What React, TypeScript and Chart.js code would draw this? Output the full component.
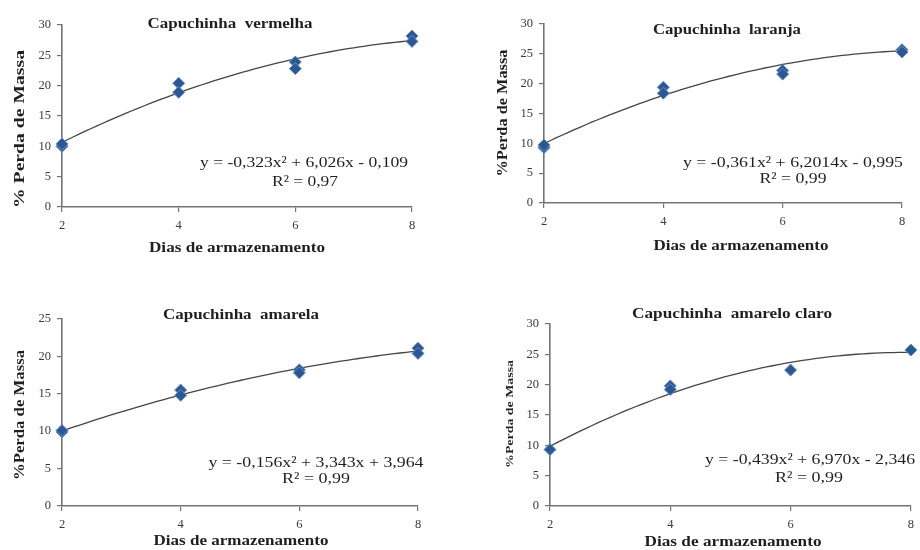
import React, { useEffect, useRef } from "react";
import { Chart, registerables } from "chart.js";

Chart.register(...registerables);

// Storage days for each replicate measurement
const vermelhaDays = [2, 2, 4, 4, 6, 6, 8, 8];
const vermelhaLoss = [10.0, 10.4, 20.4, 18.9, 23.9, 22.8, 28.2, 27.3];

const laranjaDays = [2, 2, 4, 4, 6, 6, 8, 8];
const laranjaLoss = [9.3, 9.7, 19.4, 18.4, 22.2, 21.6, 25.7, 25.3];

const amarelaDays = [2, 2, 4, 4, 6, 6, 8, 8];
const amarelaLoss = [9.9, 10.1, 15.5, 14.8, 18.2, 17.8, 21.1, 20.4];

const amareloClaroDays = [2, 4, 4, 6, 8];
const amareloClaroLoss = [9.3, 19.8, 19.2, 22.4, 25.7];

// Quadratic fit coefficients [a, b, c] for y = a·x² + b·x + c
const vermelhaFit = [-0.323, 6.026, -0.109];
const laranjaFit = [-0.361, 6.2014, -0.995];
const amarelaFit = [-0.156, 3.343, 3.964];
const amareloClaroFit = [-0.439, 6.97, -2.346];

const dayTicks = [2, 4, 6, 8];

const SERIF = '"Liberation Serif", "Times New Roman", serif';
const TEXT = "#1f1f1f";
const AXIS = "#747474";

type Pos = { x: number; y: number; w: number };

type PanelSpec = {
  title: string;
  yTitle: string;
  equation: string;
  r2: string;
  days: number[];
  loss: number[];
  fit: number[];
  yMax: number;
  box: { left: number; top: number };
  area: { left: number; right: number; top: number; bottom: number };
  titlePos: Pos;
  xTitlePos: Pos;
  yTitlePos: Pos;
  yTitleSize: number;
  eqPos: Pos;
  r2Pos: Pos;
};

const W = 460;
const H = 275;

const panels: PanelSpec[] = [
  {
    title: "Capuchinha  vermelha",
    yTitle: "% Perda de Massa",
    equation: "y = -0,323x² + 6,026x - 0,109",
    r2: "R² = 0,97",
    days: vermelhaDays,
    loss: vermelhaLoss,
    fit: vermelhaFit,
    yMax: 30,
    box: { left: 0, top: 0 },
    area: { left: 62, right: 412, top: 25, bottom: 207 },
    titlePos: { x: 230, y: 24, w: 165 },
    xTitlePos: { x: 237, y: 248, w: 176 },
    yTitlePos: { x: 20, y: 129, w: 158 },
    yTitleSize: 15,
    eqPos: { x: 304, y: 163, w: 208 },
    r2Pos: { x: 305, y: 182, w: 66 },
  },
  {
    title: "Capuchinha  laranja",
    yTitle: "%Perda de Massa",
    equation: "y = -0,361x² + 6,2014x - 0,995",
    r2: "R² = 0,99",
    days: laranjaDays,
    loss: laranjaLoss,
    fit: laranjaFit,
    yMax: 30,
    box: { left: 460, top: 0 },
    area: { left: 544, right: 902, top: 24, bottom: 203 },
    titlePos: { x: 727, y: 30, w: 148 },
    xTitlePos: { x: 741, y: 246, w: 175 },
    yTitlePos: { x: 503, y: 113, w: 127 },
    yTitleSize: 15,
    eqPos: { x: 793, y: 163, w: 220 },
    r2Pos: { x: 793, y: 179, w: 67 },
  },
  {
    title: "Capuchinha  amarela",
    yTitle: "%Perda de Massa",
    equation: "y = -0,156x² + 3,343x + 3,964",
    r2: "R² = 0,99",
    days: amarelaDays,
    loss: amarelaLoss,
    fit: amarelaFit,
    yMax: 25,
    box: { left: 0, top: 275 },
    area: { left: 62, right: 418, top: 319, bottom: 506 },
    titlePos: { x: 241, y: 315, w: 156 },
    xTitlePos: { x: 241, y: 541, w: 175 },
    yTitlePos: { x: 20, y: 415, w: 130 },
    yTitleSize: 15,
    eqPos: { x: 316, y: 463, w: 215 },
    r2Pos: { x: 316, y: 479, w: 68 },
  },
  {
    title: "Capuchinha  amarelo claro",
    yTitle: "%Perda de Massa",
    equation: "y = -0,439x² + 6,970x - 2,346",
    r2: "R² = 0,99",
    days: amareloClaroDays,
    loss: amareloClaroLoss,
    fit: amareloClaroFit,
    yMax: 30,
    box: { left: 460, top: 275 },
    area: { left: 550, right: 913, top: 324, bottom: 506 },
    titlePos: { x: 732, y: 314, w: 200 },
    xTitlePos: { x: 733, y: 542, w: 177 },
    yTitlePos: { x: 510, y: 414, w: 108 },
    yTitleSize: 11,
    eqPos: { x: 810, y: 460, w: 210 },
    r2Pos: { x: 809, y: 478, w: 68 },
  },
];

function drawFitted(
  ctx: CanvasRenderingContext2D,
  text: string,
  cx: number,
  cy: number,
  width: number,
  size: number,
  bold: boolean,
  vertical = false
) {
  ctx.save();
  ctx.font = `${bold ? "bold " : ""}${size}px ${SERIF}`;
  const natural = ctx.measureText(text).width;
  ctx.translate(cx, cy);
  if (vertical) ctx.rotate(-Math.PI / 2);
  ctx.scale(width / natural, 1);
  ctx.fillStyle = TEXT;
  ctx.textAlign = "center";
  ctx.textBaseline = "middle";
  ctx.fillText(text, 0, 0);
  ctx.restore();
}

function fitCurve(coef: number[]) {
  const pts: { x: number; y: number }[] = [];
  const first = dayTicks[0];
  const last = dayTicks[dayTicks.length - 1];
  for (let i = 0; i <= 60; i++) {
    const x = first + ((last - first) * i) / 60;
    pts.push({ x, y: coef[0] * x * x + coef[1] * x + coef[2] });
  }
  return pts;
}

function Panel({ spec }: { spec: PanelSpec }) {
  const ref = useRef<HTMLCanvasElement | null>(null);

  useEffect(() => {
    const canvas = ref.current;
    if (!canvas) return;
    const { box, area } = spec;
    const local = (p: Pos) => ({ x: p.x - box.left, y: p.y - box.top, w: p.w });

    const labels = {
      id: "panelText",
      afterDraw(chart: Chart) {
        const ctx = chart.ctx;
        const t = local(spec.titlePos);
        drawFitted(ctx, spec.title, t.x, t.y, t.w, 15.5, true);
        const xt = local(spec.xTitlePos);
        drawFitted(ctx, "Dias de armazenamento", xt.x, xt.y, xt.w, 14.5, true);
        const yt = local(spec.yTitlePos);
        drawFitted(ctx, spec.yTitle, yt.x, yt.y, yt.w, spec.yTitleSize, true, true);
        const eq = local(spec.eqPos);
        drawFitted(ctx, spec.equation, eq.x, eq.y, eq.w, 15.5, false);
        const r2 = local(spec.r2Pos);
        drawFitted(ctx, spec.r2, r2.x, r2.y, r2.w, 15.5, false);
      },
    };

    const chart = new Chart(canvas, {
      type: "scatter",
      data: {
        datasets: [
          {
            type: "line",
            data: fitCurve(spec.fit),
            borderColor: "#454545",
            borderWidth: 1.3,
            pointRadius: 0,
            tension: 0,
            fill: false,
            clip: false,
            order: 2,
          } as any,
          {
            type: "scatter",
            data: spec.days.map((d, i) => ({ x: d, y: spec.loss[i] })),
            pointStyle: "rectRot",
            pointRadius: 6,
            backgroundColor: "#2b5793",
            borderColor: "#6a8ec2",
            borderWidth: 1,
            clip: false,
            order: 1,
          } as any,
        ],
      },
      options: {
        responsive: false,
        animation: false,
        devicePixelRatio: 1,
        layout: {
          padding: {
            left: 0,
            bottom: 0,
            top: area.top - box.top,
            right: box.left + W - area.right,
          },
        },
        plugins: {
          legend: { display: false },
          tooltip: { enabled: false },
          title: { display: false },
        },
        scales: {
          x: {
            type: "linear",
            min: dayTicks[0],
            max: dayTicks[dayTicks.length - 1],
            afterFit(scale: any) {
              scale.height = box.top + H - area.bottom;
            },
            afterBuildTicks(scale: any) {
              scale.ticks = dayTicks.map((v) => ({ value: v }));
            },
            grid: {
              drawOnChartArea: false,
              drawTicks: true,
              tickLength: 5,
              color: AXIS,
              lineWidth: 1.2,
            },
            border: { display: true, color: AXIS, width: 1.6 },
            ticks: {
              padding: 6,
              color: "#3a3a3a",
              font: { family: SERIF, size: 12.5 },
            },
          },
          y: {
            type: "linear",
            min: 0,
            max: spec.yMax,
            afterFit(scale: any) {
              scale.width = area.left - box.left;
            },
            grid: {
              drawOnChartArea: false,
              drawTicks: true,
              tickLength: 5,
              color: AXIS,
              lineWidth: 1.2,
            },
            border: { display: true, color: AXIS, width: 1.6 },
            ticks: {
              stepSize: 5,
              padding: 6,
              color: "#3a3a3a",
              font: { family: SERIF, size: 12.5 },
            },
          },
        },
      },
      plugins: [labels],
    });

    return () => chart.destroy();
  }, [spec]);

  return (
    <canvas
      ref={ref}
      width={W}
      height={H}
      style={{
        position: "absolute",
        left: spec.box.left,
        top: spec.box.top,
        width: W,
        height: H,
      }}
    />
  );
}

export default function App() {
  return (
    <div
      style={{
        position: "absolute",
        left: 0,
        top: 0,
        width: 920,
        height: 550,
        background: "#ffffff",
        overflow: "hidden",
      }}
    >
      {panels.map((p) => (
        <Panel key={p.title} spec={p} />
      ))}
    </div>
  );
}
